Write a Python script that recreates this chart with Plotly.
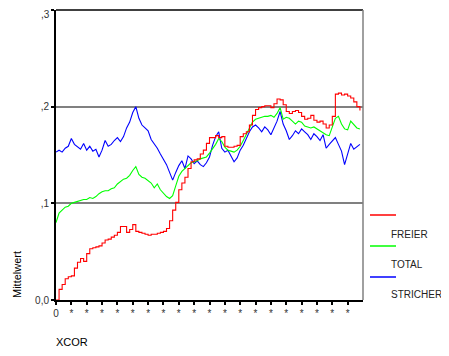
import plotly.graph_objects as go

# XCOR case index (sampled every 20 cases)
xcor = [i * 20 for i in range(100)]

stricher = [.153, .155, .153, .157, .159, .167, .161, .158, .156, .162,
            .155, .159, .154, .156, .148, .155, .165, .159, .161, .165,
            .168, .164, .169, .178, .184, .194, .200, .188, .181, .178,
            .175, .166, .162, .157, .151, .146, .140, .132, .124, .132,
            .139, .144, .136, .149, .146, .141, .144, .140, .138, .142,
            .148, .160, .169, .174, .157, .153, .155, .149, .143, .147,
            .155, .160, .167, .174, .179, .181, .178, .174, .179, .176,
            .171, .178, .185, .195, .182, .175, .166, .170, .175, .172,
            .177, .174, .171, .166, .172, .169, .165, .171, .157, .161,
            .165, .168, .161, .154, .140, .151, .162, .156, .159, .161]

total = [.080, .090, .093, .096, .097, .100, .101, .102, .103, .104,
         .104, .106, .105, .107, .110, .112, .113, .113, .115, .116,
         .120, .123, .125, .126, .129, .134, .138, .130, .127, .126,
         .123, .121, .116, .120, .114, .110, .107, .105, .108, .118,
         .128, .133, .136, .140, .142, .143, .144, .146, .147, .148,
         .152, .156, .161, .167, .164, .158, .155, .154, .153, .155,
         .159, .165, .171, .177, .184, .187, .188, .189, .190, .190,
         .191, .189, .193, .199, .187, .189, .188, .185, .182, .185,
         .184, .180, .179, .178, .179, .177, .175, .173, .171, .170,
         .179, .188, .190, .182, .177, .176, .185, .181, .178, .177]

freier = [.000, .011, .016, .022, .024, .025, .033, .039, .043, .040,
          .048, .053, .054, .055, .056, .059, .062, .063, .065, .067,
          .070, .076, .076, .070, .073, .078, .071, .070, .069, .068,
          .067, .068, .068, .069, .070, .071, .074, .082, .093, .101,
          .114, .121, .127, .136, .143, .145, .146, .151, .155, .162,
          .168, .168, .170, .168, .169, .159, .158, .158, .159, .160,
          .169, .172, .174, .181, .191, .197, .199, .200, .201, .201,
          .199, .203, .208, .207, .202, .195, .193, .195, .196, .194,
          .190, .187, .188, .191, .186, .184, .185, .182, .178, .181,
          .190, .213, .214, .212, .213, .211, .209, .205, .200, .196]

y_ticks = [0, 0.1, 0.2, 0.3]
y_labels = ["0,0", ",1", ",2", ",3"]
x_ticks = list(range(0, 2000, 100))
x_labels = ["0"] + ["*"] * 19
names = ["FREIER", "TOTAL", "STRICHER"]
colors = ["#ff0000", "#00ff00", "#0000ff"]

fig = go.Figure()
fig.add_trace(go.Scatter(x=xcor, y=stricher, mode="lines", name=names[2],
                         line=dict(color=colors[2], width=1.1)))
fig.add_trace(go.Scatter(x=xcor, y=total, mode="lines", name=names[1],
                         line=dict(color=colors[1], width=1.1)))
fig.add_trace(go.Scatter(x=xcor, y=freier, mode="lines", name=names[0],
                         line=dict(color=colors[0], width=1.1, shape="hv")))

# page body has an 8px margin, so the figure is sized/offset to compensate
OFF = 8
PL, PR, PT, PB = 56, 363, 10, 300  # plot area in page pixels
W, H = 449 - OFF, 356 - OFF


def px(xp):
    return (xp - PL) / (PR - PL)


def py(yp):
    return (PB - yp) / (PB - PT)


font = "Liberation Sans, Arial, sans-serif"
# the top tick label would be clipped by the figure edge: drawn as annotation
axis_labels = y_labels[:-1] + [""]
fig.update_layout(
    width=W, height=H,
    margin=dict(l=PL - OFF, r=W - (PR - OFF), t=PT - OFF, b=H - (PB - OFF),
                autoexpand=False),
    paper_bgcolor="white", plot_bgcolor="white",
    showlegend=False,
    font=dict(family=font, size=10, color="#222"),
    xaxis=dict(range=[0, 2000], tickvals=x_ticks, ticktext=x_labels,
               showgrid=False, zeroline=False, showline=True, automargin=False,
               linecolor="black", linewidth=2, ticks="outside",
               ticklen=3, tickwidth=2, tickcolor="black",
               tickfont=dict(size=10, color="#333")),
    yaxis=dict(range=[0, 0.3], tickvals=y_ticks, ticktext=axis_labels,
               showgrid=True, gridcolor="#808080", gridwidth=1.5, automargin=False,
               zeroline=False, showline=True, linecolor="black",
               linewidth=2, ticks="outside", ticklen=3, tickwidth=2,
               tickcolor="black", tickfont=dict(size=10, color="#333")),
)
fig.add_annotation(text=y_labels[-1], xref="paper", yref="paper",
                   x=px(51), y=py(8), xanchor="right", yanchor="top",
                   showarrow=False, borderpad=0,
                   font=dict(size=10, color="#333"))

# frame: top black, right gray
fig.add_shape(type="line", xref="paper", yref="paper", x0=0, x1=1, y0=1, y1=1,
              line=dict(color="black", width=1.5))
fig.add_shape(type="line", xref="paper", yref="paper", x0=1, x1=1, y0=0, y1=1,
              line=dict(color="#808080", width=1.5))

# axis titles
fig.add_annotation(text="Mittelwert", xref="paper", yref="paper",
                   x=px(17), y=py(275), textangle=-90, showarrow=False,
                   font=dict(size=11, color="black"), xanchor="center", yanchor="middle")
fig.add_annotation(text="XCOR", xref="paper", yref="paper",
                   x=px(54), y=py(342), showarrow=False,
                   font=dict(size=11, color="black"), xanchor="left", yanchor="middle")

# custom legend
leg_line_y = [215, 246, 277]
leg_text_y = [234, 264, 294]
for nm, c, ly, ty in zip(names, colors, leg_line_y, leg_text_y):
    fig.add_shape(type="line", xref="paper", yref="paper",
                  x0=px(370), x1=px(396), y0=py(ly), y1=py(ly),
                  line=dict(color=c, width=1.5))
    fig.add_annotation(text=nm, xref="paper", yref="paper",
                       x=px(389), y=py(ty), showarrow=False,
                       xanchor="left", yanchor="middle",
                       font=dict(size=10, color="#222"))

fig.write_html("out.html")
